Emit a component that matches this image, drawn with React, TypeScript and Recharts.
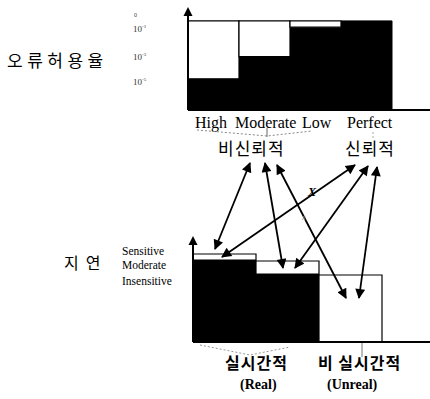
import React from 'react';
import { BarChart, Bar, XAxis, YAxis } from 'recharts';

// ---- data ----
const topCategories = ['High', 'Moderate', 'Low', 'Perfect'];
const topTolerated = [35, 60, 93, 100];
const topRemaining = [65, 40, 7, 0];
const topTickValues = [31, 60, 91];
const topTickSup = ['-5', '-3', '-1'];

const bottomCategories = ['Real-Sensitive', 'Real-Moderate', 'Unreal-Insensitive'];
const bottomFilled = [82, 68, 0];
const bottomRemaining = [6, 13, 67];
const bottomTickValues = [61, 77, 91];
const bottomTickLabels = ['Insensitive', 'Moderate', 'Sensitive'];

const topData = topCategories.map((c, i) => ({ name: c, a: topTolerated[i], b: topRemaining[i] }));
const bottomData = bottomCategories.map((c, i) => ({ name: c, a: bottomFilled[i], b: bottomRemaining[i] }));

const SERIF = '"Liberation Serif", "DejaVu Serif", serif';
const KR = '"Noto Sans CJK KR", sans-serif';

const arrows: number[][] = [
  [250, 163, 215, 249],
  [265, 163, 283, 268],
  [277, 165, 346, 298],
  [355, 165, 222, 257],
  [368, 166, 295, 268],
  [377, 167, 359, 298],
];

const TopYTick = (props: any) => {
  const { y, index } = props;
  const sup = topTickSup[index] ?? '';
  return (
    <g>
      <text x={133} y={y + 3} fontFamily={SERIF} fontSize={9} fill="#333">
        10
        <tspan dy={-4} fontSize={5}>{sup}</tspan>
      </text>
    </g>
  );
};

const topLabelOffsets = [-18.5, -29.5, -13.5, -19.5];
const TopXTick = (props: any) => {
  const { x, index } = props;
  return (
    <text x={x + topLabelOffsets[index]} y={128} textAnchor="start" fontFamily={SERIF} fontSize={16} fill="#000">
      {topCategories[index]}
    </text>
  );
};

const BottomYTick = (props: any) => {
  const { y, index } = props;
  return (
    <text x={122} y={y + 4} textAnchor="start" fontFamily={SERIF} fontSize={11.5} fill="#000">
      {bottomTickLabels[index]}
    </text>
  );
};

export default function App() {
  return (
    <div style={{ position: 'absolute', left: 0, top: 0, width: 430, height: 399, background: '#fff', overflow: 'hidden' }}>
      <div style={{ position: 'absolute', left: 0, top: 0 }}>
        <BarChart width={430} height={145} data={topData} margin={{ top: 12, right: 0, bottom: 0, left: 0 }} barCategoryGap={0} barGap={0}>
          <XAxis
            dataKey="name"
            padding={{ left: 0, right: 38 }}
            tick={<TopXTick />}
            tickLine={false}
            axisLine={{ stroke: '#000', strokeWidth: 2 }}
            height={35}
            interval={0}
          />
          <YAxis
            type="number"
            domain={[0, 110]}
            ticks={topTickValues}
            tick={<TopYTick />}
            tickLine={false}
            axisLine={{ stroke: '#000', strokeWidth: 2 }}
            width={188}
            interval={0}
            allowDataOverflow
          />
          <Bar dataKey="a" stackId="s" fill="#000" stroke="#000" strokeWidth={1} isAnimationActive={false} />
          <Bar dataKey="b" stackId="s" fill="#fff" stroke="#000" strokeWidth={1.2} isAnimationActive={false} />
        </BarChart>
      </div>
      <div style={{ position: 'absolute', left: 0, top: 0 }}>
        <BarChart width={430} height={399} data={bottomData} margin={{ top: 241, right: 0, bottom: 0, left: 0 }} barCategoryGap={0} barGap={0}>
          <XAxis
            dataKey="name"
            padding={{ left: 0, right: 48 }}
            tick={false}
            tickLine={false}
            axisLine={{ stroke: '#000', strokeWidth: 2 }}
            height={57}
          />
          <YAxis
            type="number"
            domain={[0, 101]}
            ticks={bottomTickValues}
            tick={<BottomYTick />}
            tickLine={false}
            axisLine={{ stroke: '#000', strokeWidth: 2 }}
            width={193}
            interval={0}
            allowDataOverflow
          />
          <Bar dataKey="a" stackId="s" fill="#000" stroke="#000" strokeWidth={1} isAnimationActive={false} />
          <Bar dataKey="b" stackId="s" fill="#fff" stroke="#000" strokeWidth={1.2} isAnimationActive={false} />
        </BarChart>
      </div>
      <svg width={430} height={399} style={{ position: 'absolute', left: 0, top: 0, pointerEvents: 'none' }}>
        <defs>
          <marker id="ah" viewBox="0 0 10 10" refX="9" refY="5" markerWidth="11" markerHeight="10" markerUnits="userSpaceOnUse" orient="auto-start-reverse">
            <path d="M0,0 L10,5 L0,10 z" fill="#000" />
          </marker>
        </defs>
        {/* axis arrowheads */}
        <polygon points="188,7 183.5,16 192.5,16" fill="#000" />
        <polygon points="193,236 188.5,245 197.5,245" fill="#000" />
        {/* side titles */}
        <text x={7} y={67} fontFamily={KR} fontSize={17} letterSpacing={4.5} fill="#000">오류허용율</text>
        <text x={134} y={17} fontFamily={SERIF} fontSize={6} fill="#444">0</text>
        <text x={64} y={269} fontFamily={KR} fontSize={16} letterSpacing={7} fill="#000">지연</text>
        {/* top brackets */}
        <polyline points="197,130 267,136 312,131" fill="none" stroke="#888" strokeWidth={1} strokeDasharray="2 2" />
        <line x1={267} y1={128} x2={267} y2={137} stroke="#666" strokeWidth={1} />
        <line x1={373} y1={132} x2={373} y2={140} stroke="#aaa" strokeWidth={1} strokeDasharray="2 2" />
        <text x={218} y={155} fontFamily={KR} fontSize={17} letterSpacing={1} fill="#000">비신뢰적</text>
        <text x={345} y={155} fontFamily={KR} fontSize={17} letterSpacing={1} fill="#000">신뢰적</text>
        {/* arrows */}
        {arrows.map((a, i) => (
          <line key={i} x1={a[0]} y1={a[1]} x2={a[2]} y2={a[3]} stroke="#000" strokeWidth={1.8} markerStart="url(#ah)" markerEnd="url(#ah)" />
        ))}
        <text x={308} y={196} fontFamily={SERIF} fontSize={12} fontStyle="italic" fontWeight="bold" fill="#000">X</text>
        <text x={302} y={220} fontFamily={SERIF} fontSize={8} fontStyle="italic" fill="#999">x</text>
        {/* bottom brackets */}
        <polyline points="200,345 250,355 290,347" fill="none" stroke="#999" strokeWidth={1} strokeDasharray="2 2" />
        <line x1={362} y1={343} x2={362} y2={357} stroke="#777" strokeWidth={1} />
        <text x={225} y={369} fontFamily={KR} fontSize={16} fontWeight="bold" letterSpacing={1} fill="#000">실시간적</text>
        <text x={318} y={369} fontFamily={KR} fontSize={16} fontWeight="bold" letterSpacing={1} fill="#000">비 실시간적</text>
        <text x={240} y={389} fontFamily={SERIF} fontSize={14} fontWeight="bold" fill="#000">(Real)</text>
        <text x={327} y={389} fontFamily={SERIF} fontSize={14} fontWeight="bold" fill="#000">(Unreal)</text>
      </svg>
    </div>
  );
}
